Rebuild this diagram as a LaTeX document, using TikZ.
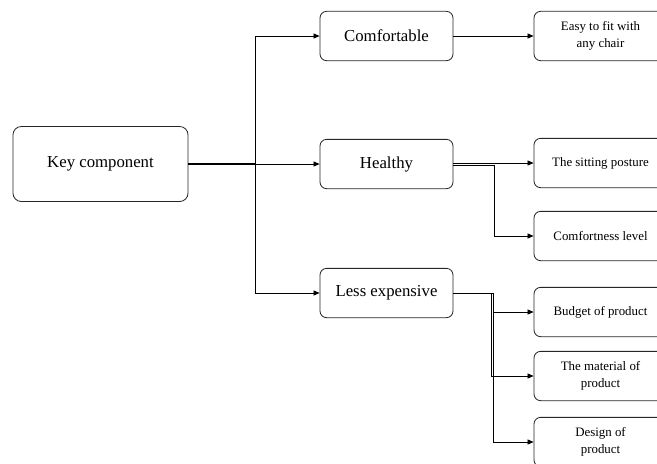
\documentclass[tikz,border=0pt]{standalone}
\usepackage{fontspec}
\setmainfont{Liberation Serif}
\usetikzlibrary{arrows.meta, positioning, calc}

\tikzset{
  rootbox/.style={draw=black!85, line width=0.7pt, rounded corners=0.25cm, fill=white, minimum width=5.25cm, minimum height=2.25cm, font=\fontsize{14.3}{17}\selectfont},
  midbox/.style={draw=black!85, line width=0.7pt, rounded corners=0.2cm, fill=white, minimum width=3.99cm, minimum height=1.48cm, font=\fontsize{14.3}{17}\selectfont},
  leafbox/.style={draw=black!85, line width=0.7pt, rounded corners=0.2cm, fill=white, minimum width=3.99cm, minimum height=1.48cm, align=center, font=\fontsize{11}{14.2}\selectfont},
  arr/.style={-{Triangle[length=0.18cm, width=0.15cm]}, line width=0.6pt, black}
}

\begin{document}
\begin{tikzpicture}[x=0.03cm, y=-0.03cm]
    \useasboundingbox (0,0) rectangle (657,463);
    \clip (0,0) rectangle (657,463);
    % main boxes
    \node[rootbox] (key) at (100.5,164) {Key component};
    \node[midbox] (comf) at (386.5,36) {Comfortable};
    \node[midbox] (healthy) at (386.5,164) {Healthy};
    \node[midbox] (less) at (386.5,293) {Less expensive};
    % leaves
    \node[leafbox] (easy) at (600.5,36) {Easy to fit with\\any chair};
    \node[leafbox] (sit) at (600.5,163) {The sitting posture};
    \node[leafbox] (comfl) at (600.5,236) {Comfortness level};
    \node[leafbox] (budget) at (600.5,312) {Budget of product};
    \node[leafbox] (material) at (600.5,376) {The material of\\product};
    \node[leafbox] (design) at (600.5,442) {Design of\\product};
    \coordinate (trunk) at (255,164);
    % connectors
    \draw[arr] ([yshift=0.02cm]key.east) -- ([yshift=0.02cm]trunk) |- (comf.west);
    \draw[arr] (key.east) -- (healthy.west);
    \draw[arr] ([yshift=-0.02cm]key.east) -- ([yshift=-0.02cm]trunk) |- (less.west);
    \draw[arr] (comf.east) -- (easy.west);
    \draw[arr] ([yshift=0.03cm]healthy.east) -- (sit.west);
    \draw[arr] ([yshift=-0.03cm]healthy.east) -- ++(41,0) |- (comfl.west);
    \draw[arr] (less.east) -- ++(40,0) |- (budget.west);
    \draw[arr] (less.east) -- ++(38,0) |- (material.west);
    \draw[arr] (less.east) -- ++(40,0) |- (design.west);
\end{tikzpicture}
\end{document}
